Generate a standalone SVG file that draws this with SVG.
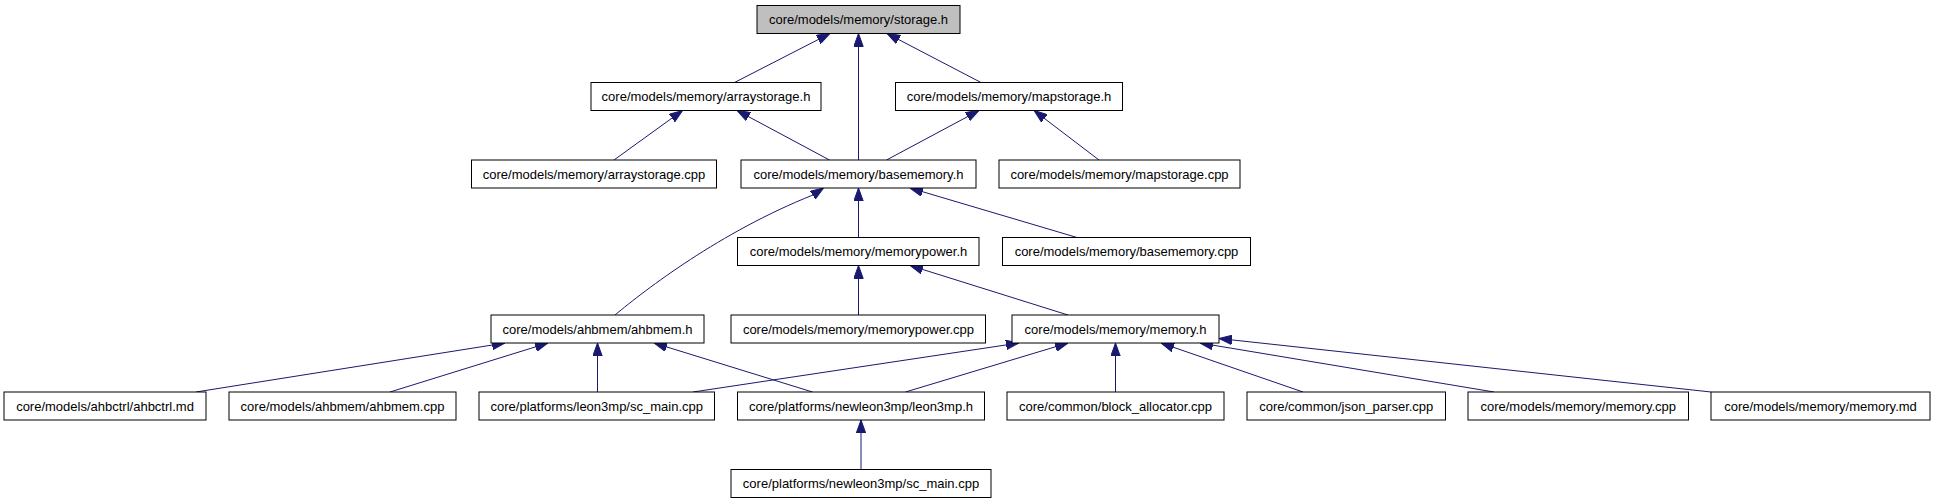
<svg xmlns="http://www.w3.org/2000/svg" width="1933" height="504" viewBox="0 0 1933 504">
<style>
.n rect{fill:#ffffff;stroke:#000000;stroke-width:1}
.n.root rect{fill:#bfbfbf}
.n text{font-family:"Liberation Sans",Arial,sans-serif;font-size:13px;fill:#000000;text-anchor:middle}
.e path{fill:none;stroke:#191970;stroke-width:1;marker-end:url(#arr)}
</style>
<defs>
<marker id="arr" viewBox="0 0 13 10" refX="13" refY="5" markerWidth="13" markerHeight="10" markerUnits="userSpaceOnUse" orient="auto">
<path d="M0,0.3 L13,5 L0,9.7 z" fill="#191970" stroke="#191970" stroke-width="1"/>
</marker>
</defs>
<g id="edges" class="e">
<path d="M734.5,82.5 L830,33.5"/>
<path d="M858.5,160 L858.5,33.5"/>
<path d="M981,82.5 L887,33.5"/>
<path d="M614,160 L682.5,110.5"/>
<path d="M829.5,160 L737,110.5"/>
<path d="M886.5,160 L979,110.5"/>
<path d="M1099,160 L1034,110.5"/>
<path d="M615,315 C645,290 720,232 813,195 L823.5,188"/>
<path d="M858.5,237.5 L858.5,188"/>
<path d="M1077,237.5 L910,188"/>
<path d="M858.5,315 L858.5,265.5"/>
<path d="M1068,315 L910,265.5"/>
<path d="M196,392 L505,343"/>
<path d="M390,392 L548,343"/>
<path d="M597.5,392 L597.5,343"/>
<path d="M812.5,392 L654,343"/>
<path d="M693,392 L1019,343"/>
<path d="M905.5,392 L1068,343"/>
<path d="M1115.5,392 L1115.5,343"/>
<path d="M1303,392 L1161,343"/>
<path d="M1494,392 L1200,343"/>
<path d="M1711,392 L1219,338.5"/>
<path d="M861,469.5 L861,420"/>
</g>
<g id="n_storage_h" class="n root"><rect x="757" y="5.5" width="203" height="28"/><text x="858.5" y="24">core/models/memory/storage.h</text></g>
<g id="n_arraystorage_h" class="n"><rect x="591" y="82.5" width="230" height="28"/><text x="706" y="101">core/models/memory/arraystorage.h</text></g>
<g id="n_mapstorage_h" class="n"><rect x="895.5" y="82.5" width="227" height="28"/><text x="1009" y="101">core/models/memory/mapstorage.h</text></g>
<g id="n_arraystorage_cpp" class="n"><rect x="471.5" y="160" width="245" height="28"/><text x="594" y="178.5">core/models/memory/arraystorage.cpp</text></g>
<g id="n_basememory_h" class="n"><rect x="741" y="160" width="235" height="28"/><text x="858.5" y="178.5">core/models/memory/basememory.h</text></g>
<g id="n_mapstorage_cpp" class="n"><rect x="999" y="160" width="241" height="28"/><text x="1119.5" y="178.5">core/models/memory/mapstorage.cpp</text></g>
<g id="n_memorypower_h" class="n"><rect x="737.5" y="237.5" width="241.5" height="28"/><text x="858.5" y="256">core/models/memory/memorypower.h</text></g>
<g id="n_basememory_cpp" class="n"><rect x="1002.5" y="237.5" width="248" height="28"/><text x="1126.5" y="256">core/models/memory/basememory.cpp</text></g>
<g id="n_ahbmem_h" class="n"><rect x="491" y="315" width="213" height="28"/><text x="597.5" y="333.5">core/models/ahbmem/ahbmem.h</text></g>
<g id="n_memorypower_cpp" class="n"><rect x="731" y="315" width="254.5" height="28"/><text x="858.5" y="333.5">core/models/memory/memorypower.cpp</text></g>
<g id="n_memory_h" class="n"><rect x="1012" y="315" width="207" height="28"/><text x="1115.5" y="333.5">core/models/memory/memory.h</text></g>
<g id="n_ahbctrl_md" class="n"><rect x="4" y="392" width="202" height="28"/><text x="105" y="410.5">core/models/ahbctrl/ahbctrl.md</text></g>
<g id="n_ahbmem_cpp" class="n"><rect x="229" y="392" width="227" height="28"/><text x="342.5" y="410.5">core/models/ahbmem/ahbmem.cpp</text></g>
<g id="n_leon3mp_sc_main_cpp" class="n"><rect x="479" y="392" width="235.5" height="28"/><text x="596.75" y="410.5">core/platforms/leon3mp/sc_main.cpp</text></g>
<g id="n_newleon3mp_leon3mp_h" class="n"><rect x="737.5" y="392" width="247" height="28"/><text x="861" y="410.5">core/platforms/newleon3mp/leon3mp.h</text></g>
<g id="n_block_allocator_cpp" class="n"><rect x="1007" y="392" width="217" height="28"/><text x="1115.5" y="410.5">core/common/block_allocator.cpp</text></g>
<g id="n_json_parser_cpp" class="n"><rect x="1247" y="392" width="198.5" height="28"/><text x="1346.25" y="410.5">core/common/json_parser.cpp</text></g>
<g id="n_memory_cpp" class="n"><rect x="1468" y="392" width="220.5" height="28"/><text x="1578.25" y="410.5">core/models/memory/memory.cpp</text></g>
<g id="n_memory_md" class="n"><rect x="1711" y="392" width="219" height="28"/><text x="1820.5" y="410.5">core/models/memory/memory.md</text></g>
<g id="n_newleon3mp_sc_main_cpp" class="n"><rect x="731" y="469.5" width="260" height="28"/><text x="861" y="488">core/platforms/newleon3mp/sc_main.cpp</text></g>
</svg>
